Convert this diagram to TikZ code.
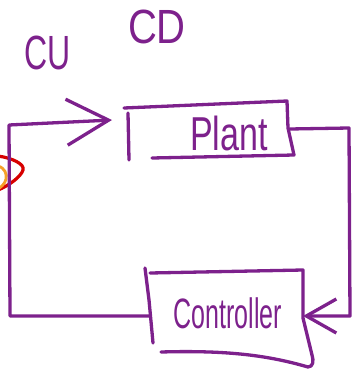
\documentclass[tikz,border=0pt]{standalone}
\usepackage{fontspec}
\setmainfont{Liberation Sans}
\usetikzlibrary{arrows.meta}
\definecolor{ink}{RGB}{125,33,140}
\definecolor{redink}{RGB}{215,0,0}
\definecolor{orangeink}{RGB}{245,160,40}
\begin{document}
\begin{tikzpicture}[x=1pt,y=-1pt,
  stroke/.style={draw=ink,line width=3.3pt,line cap=round,line join=round},
  boxnode/.style={inner sep=0pt,outer sep=0pt,rectangle},
  lbl/.style={text=ink,inner sep=0pt},
  wire/.style={stroke}]
\useasboundingbox (0,0) rectangle (364,375);
% red / orange marks at the left edge
\draw[draw=redink,line width=3.2pt,line cap=round] (-2,156) .. controls (12,158) and (25,164) .. (23,170) .. controls (21,177) and (8,186) .. (-2,190);
\draw[draw=orangeink,line width=2.8pt] (-2,166) .. controls (5,168) and (7,174) .. (6,179) .. controls (5,184) and (1,187) .. (-2,189);
% nodes
\node[boxnode,minimum width=163pt,minimum height=54pt] (plant) at (208,129) {};
\node[boxnode,minimum width=154pt,minimum height=92pt] (ctrl) at (226,316) {};
\coordinate (inpt) at (112,120);
% box outlines
\draw[stroke] (124,108) -- (287,101) -- (288,128) -- (294,155) -- (152,158);
\draw[stroke] (128,113) -- (129,160);
\draw[stroke] (145,268) -- (149,300) -- (153,343);
\draw[stroke] (150,273) -- (303,270) -- (303,318) -- (312,355) .. controls (314,361) and (313,367) .. (308,367) .. controls (270,356) and (230,350) .. (161,352);
% labels
\node[lbl,font=\fontsize{34}{34}\selectfont] (plantlbl) at (229,133) {\scalebox{1}[1.4]{Plant}};
\node[lbl,font=\fontsize{25}{25}\selectfont] (ctrllbl) at (228,313) {\scalebox{1}[1.7]{Controller}};
\node[lbl,font=\fontsize{32}{32}\selectfont] (cu) at (48,53) {\scalebox{1}[1.5]{CU}};
\node[lbl,font=\fontsize{40}{40}\selectfont] (cd) at (157,27) {\scalebox{1}[1.2]{CD}};
% connectors
\draw[wire,-{Straight Barb[length=42pt,width=46pt]}] (ctrl.west) -- (10,316) -- (9,125) -- (inpt);
\draw[wire,-{Straight Barb[length=30pt,width=34pt]}] (plant.east) -- (349,128) -- (350,316) -- (ctrl.east);
\end{tikzpicture}
\end{document}
